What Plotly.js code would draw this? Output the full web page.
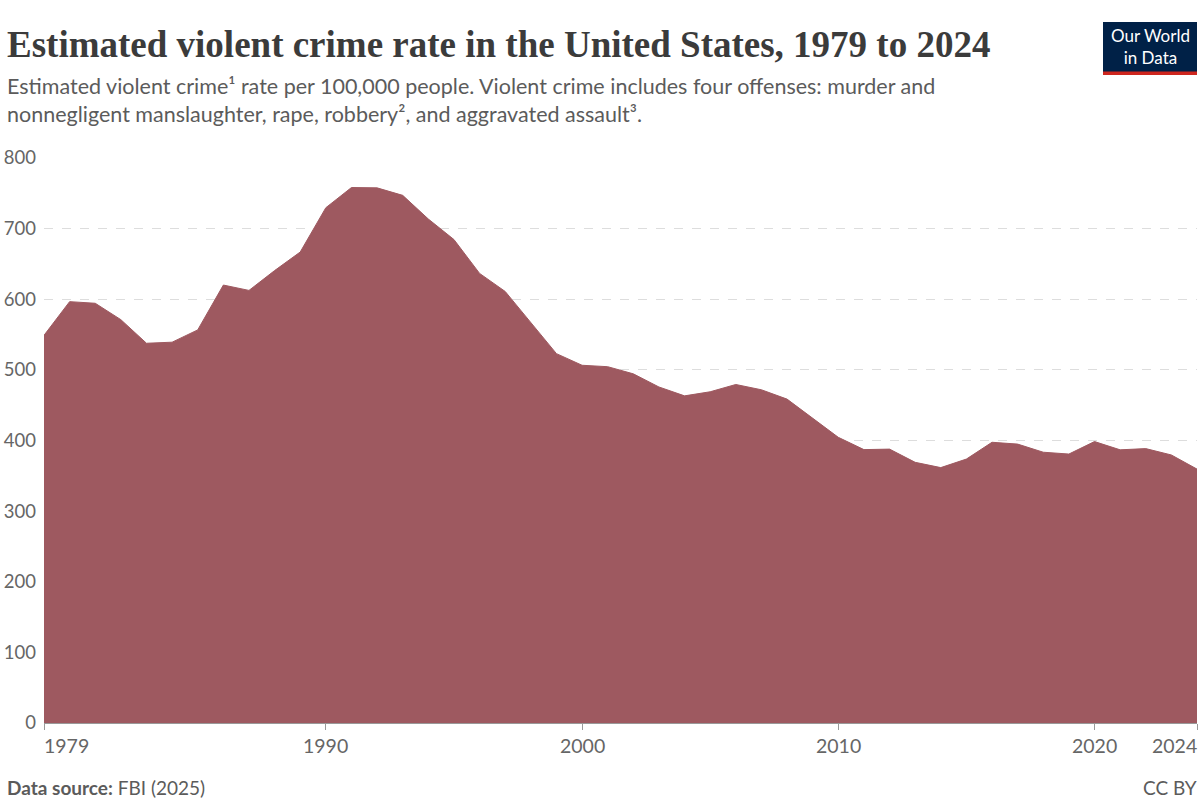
<!DOCTYPE html>
<html>
<head>
<meta charset="utf-8">
<script src="https://cdn.plot.ly/plotly-3.0.1.min.js"></script>
<style>html,body{margin:0;padding:0;background:#fff;}#chart{width:1200px;height:800px;}</style>
</head>
<body>
<div id="chart"></div>
<script>
const years = [1979,1980,1981,1982,1983,1984,1985,1986,1987,1988,1989,1990,1991,1992,1993,1994,1995,1996,1997,1998,1999,2000,2001,2002,2003,2004,2005,2006,2007,2008,2009,2010,2011,2012,2013,2014,2015,2016,2017,2018,2019,2020,2021,2022,2023,2024];
const rates = [548.9,596.6,594.3,571.1,537.7,539.2,556.6,620.1,612.5,640.6,666.9,729.6,758.2,757.7,747.1,713.6,684.5,636.6,611.0,567.6,523.0,506.5,504.5,494.4,475.8,463.2,469.0,479.3,471.8,458.6,431.9,404.5,387.1,387.8,369.1,361.6,373.7,397.5,394.9,383.4,380.8,398.5,386.8,388.5,379.5,359.5];
const xTickVals = [1979,1990,2000,2010,2020,2024];
const xTickText = ["1979","1990","2000","2010","2020","2024"];
const yTickVals = [0,100,200,300,400,500,600,700,800];

const L = 44, R = 1197, T = 158, B = 723;
const px = v => (v - L) / (R - L);
const py = v => (B - v) / (B - T);

const trace = {
  x: years, y: rates, type: 'scatter', mode: 'lines',
  fill: 'tozeroy', fillcolor: '#9e5960',
  line: {color: '#9e5960', width: 1},
  hoverinfo: 'x+y'
};

const annotations = [];
xTickVals.forEach((v, i) => {
  annotations.push({
    x: v, xref: 'x', y: py(745), yref: 'paper', text: xTickText[i], showarrow: false,
    xanchor: i === 0 ? 'left' : (i === xTickVals.length - 1 ? 'right' : 'center'),
    xshift: i === 0 ? -2 : (i === xTickVals.length - 1 ? 2 : 0),
    yanchor: 'middle', font: {family: 'Lato', size: 19.5, color: '#666666'}
  });
});
annotations.push({
  x: px(5), xref: 'paper', y: py(44), yref: 'paper', xanchor: 'left', yanchor: 'middle', showarrow: false,
  text: 'Estimated violent crime rate in the United States, 1979 to 2024',
  font: {family: 'Liberation Serif', size: 37, color: '#3b3b3b', weight: 700}
});
annotations.push({
  x: px(5), xref: 'paper', y: py(100), yref: 'paper', xanchor: 'left', yanchor: 'middle', showarrow: false, align: 'left',
  text: 'Estimated violent crime¹ rate per 100,000 people. Violent crime includes four offenses: murder and<br>nonnegligent manslaughter, rape, robbery², and aggravated assault³.',
  font: {family: 'Lato', size: 21.5, color: '#5b5b5b'}
});
annotations.push({
  x: px(5), xref: 'paper', y: py(787), yref: 'paper', xanchor: 'left', yanchor: 'middle', showarrow: false,
  text: '<b>Data source:</b> FBI (2025)', font: {family: 'Lato', size: 19, color: '#5b5b5b'}
});
annotations.push({
  x: px(1199), xref: 'paper', y: py(787), yref: 'paper', xanchor: 'right', yanchor: 'middle', showarrow: false,
  text: 'CC BY', font: {family: 'Lato', size: 19, color: '#5b5b5b'}
});
annotations.push({
  x: px(1150), xref: 'paper', y: py(46), yref: 'paper', xanchor: 'center', yanchor: 'middle', showarrow: false,
  text: 'Our World<br>in Data', font: {family: 'Lato', size: 17, color: '#ffffff'}
});

const shapes = [
  {type: 'rect', xref: 'paper', yref: 'paper', x0: px(1103), x1: px(1197), y0: py(75), y1: py(22), fillcolor: '#002147', line: {width: 0}},
  {type: 'rect', xref: 'paper', yref: 'paper', x0: px(1103), x1: px(1197), y0: py(75), y1: py(71.5), fillcolor: '#ce261e', line: {width: 0}}
];

const layout = {
  width: 1200, height: 800,
  margin: {l: L, r: 1200 - R, t: T, b: 800 - B, pad: 0},
  paper_bgcolor: '#ffffff', plot_bgcolor: '#ffffff',
  showlegend: false,
  xaxis: {
    range: [1979, 2024], tickvals: xTickVals, showticklabels: false,
    ticks: 'outside', ticklen: 6, tickcolor: '#999999', tickwidth: 1,
    showgrid: false, zeroline: false, showline: true, linecolor: '#999999', linewidth: 1
  },
  yaxis: {
    range: [0, 800], tickvals: yTickVals, ticks: '', ticklabelstandoff: 7,
    showgrid: true, gridcolor: '#dddddd', griddash: 'dash', gridwidth: 1,
    zeroline: false, showline: false,
    tickfont: {family: 'Lato', size: 18.5, color: '#666666'}
  },
  annotations: annotations,
  shapes: shapes
};

Plotly.newPlot('chart', [trace], layout, {displayModeBar: false, staticPlot: true});
</script>
</body>
</html>
